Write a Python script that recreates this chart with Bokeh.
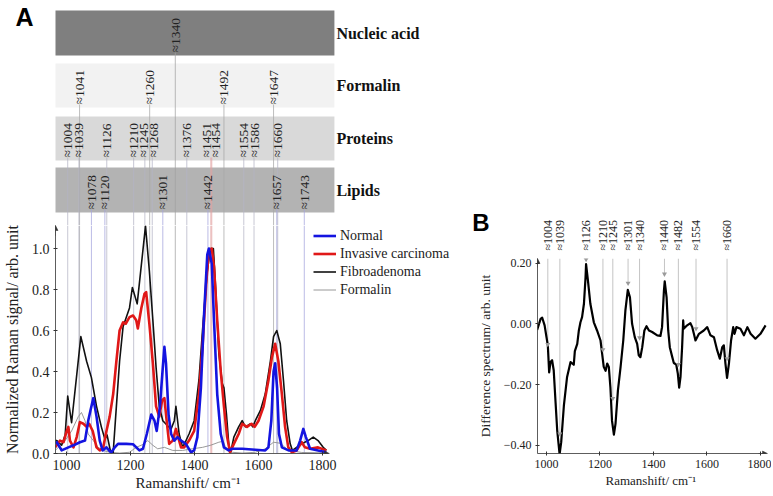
import math
from bokeh.plotting import figure
from bokeh.models import (Range1d, LinearAxis, FixedTicker, PrintfTickFormatter, Title,
                          CustomJSTickFormatter, Legend, LegendItem, Arrow, NormalHead)
from bokeh.layouts import row, column
from bokeh.embed import file_html
from bokeh.resources import INLINE
from bokeh.core.properties import value

# ---------------------------------------------------------------- data
shift_ticks = [1000, 1200, 1400, 1600, 1800]
a_yticks = [0.0, 0.2, 0.4, 0.6, 0.8, 1.0]
b_yticks = [-0.4, -0.2, 0.0, 0.2]
panel_letters = ["A", "B"]

series_names = ["Normal", "Invasive carcinoma", "Fibroadenoma", "Formalin"]

normal_x = [965, 970, 985, 1006, 1022, 1042, 1058, 1068, 1075, 1084, 1094, 1104, 1113, 1125, 1133,
            1140, 1151, 1161, 1187, 1208, 1228, 1239, 1251, 1265, 1275, 1282, 1292, 1301, 1306, 1311,
            1319, 1327, 1337, 1347, 1358, 1373, 1389, 1399, 1409, 1420, 1430, 1440, 1445, 1454, 1461,
            1471, 1482, 1492, 1507, 1518, 1549, 1590, 1621, 1631, 1640, 1647, 1652, 1658, 1664, 1673,
            1694, 1719, 1730, 1740, 1748, 1761, 1786, 1812]
normal_y = [0.05, 0.055, 0.015, 0.03, 0.04, 0.055, 0.063, 0.16, 0.21, 0.27, 0.18, 0.063, 0.015, 0.03, 0.015,
            0.005, 0.03, 0.047, 0.047, 0.045, 0.015, 0.023, 0.095, 0.19, 0.16, 0.11, 0.23, 0.42, 0.52, 0.44,
            0.19, 0.095, 0.063, 0.08, 0.063, 0.047, 0.006, 0.015, 0.08, 0.32, 0.68, 0.97, 1.0, 0.925, 0.65,
            0.29, 0.095, 0.03, 0.015, 0.023, 0.023, 0.018, 0.015, 0.03, 0.16, 0.40, 0.44, 0.32, 0.095, 0.03,
            0.015, 0.015, 0.063, 0.12, 0.08, 0.023, 0.015, 0.006]

invasive_x = [965, 980, 991, 1001, 1006, 1011, 1022, 1032, 1042, 1053, 1063, 1071, 1082, 1094, 1104,
              1115, 1125, 1135, 1146, 1156, 1166, 1177, 1185, 1197, 1208, 1218, 1223, 1234, 1244, 1249,
              1259, 1270, 1280, 1290, 1299, 1306, 1313, 1321, 1332, 1342, 1349, 1358, 1368, 1383, 1399,
              1414, 1425, 1437, 1445, 1454, 1461, 1471, 1482, 1492, 1502, 1511, 1523, 1538, 1549, 1564,
              1578, 1588, 1600, 1616, 1631, 1642, 1652, 1662, 1673, 1683, 1693, 1704, 1719, 1735, 1745,
              1761, 1786, 1812]
invasive_y = [0.03, 0.063, 0.055, 0.11, 0.13, 0.063, 0.03, 0.08, 0.153, 0.145, 0.13, 0.145, 0.11, 0.03, 0.015,
              0.03, 0.11, 0.18, 0.29, 0.45, 0.60, 0.64, 0.633, 0.665, 0.673, 0.65, 0.61, 0.71, 0.78, 0.787,
              0.633, 0.44, 0.23, 0.18, 0.26, 0.27, 0.16, 0.047, 0.063, 0.12, 0.08, 0.03, 0.03, 0.063, 0.11,
              0.29, 0.52, 0.84, 0.99, 1.0, 0.91, 0.65, 0.40, 0.23, 0.08, 0.006, 0.047, 0.095, 0.145, 0.13,
              0.145, 0.13, 0.16, 0.23, 0.356, 0.47, 0.535, 0.45, 0.29, 0.13, 0.03, 0.006, 0.015, 0.055, 0.03,
              0.023, 0.03, 0.015]

fibro_x = [965, 970, 985, 996, 1004, 1016, 1045, 1063, 1078, 1094, 1109, 1120, 1127, 1137, 1146,
           1156, 1166, 1177, 1187, 1197, 1206, 1221, 1247, 1259, 1270, 1280, 1290, 1301, 1316, 1327,
           1337, 1342, 1352, 1363, 1371, 1383, 1399, 1414, 1425, 1440, 1450, 1459, 1466, 1476, 1487,
           1492, 1500, 1507, 1513, 1523, 1538, 1549, 1559, 1575, 1582, 1590, 1606, 1621, 1637, 1647,
           1657, 1668, 1678, 1688, 1699, 1706, 1719, 1735, 1755, 1771, 1786, 1802, 1812]
fibro_y = [0.063, 0.063, 0.04, 0.09, 0.28, 0.15, 0.57, 0.45, 0.37, 0.23, 0.13, 0.07, 0.09, 0.015, 0.005,
           0.23, 0.45, 0.62, 0.665, 0.71, 0.81, 0.73, 1.11, 0.89, 0.65, 0.42, 0.23, 0.16, 0.135, 0.12,
           0.16, 0.23, 0.095, 0.03, 0.055, 0.095, 0.16, 0.36, 0.6, 0.89, 1.0, 1.0, 0.81, 0.49, 0.34,
           0.32, 0.19, 0.047, 0.006, 0.08, 0.13, 0.16, 0.13, 0.145, 0.13, 0.16, 0.21, 0.29, 0.45, 0.57,
           0.60, 0.535, 0.356, 0.16, 0.047, 0.015, 0.03, 0.047, 0.063, 0.08, 0.063, 0.03, 0.015]

formalin_x = [965, 996, 1016, 1037, 1047, 1058, 1068, 1084, 1099, 1115, 1135, 1166, 1197, 1218, 1239,
              1254, 1270, 1285, 1306, 1332, 1363, 1394, 1425, 1450, 1476, 1490, 1497, 1518, 1549, 1590,
              1621, 1647, 1668, 1694, 1735, 1812]
formalin_y = [0.015, 0.063, 0.11, 0.18, 0.20, 0.16, 0.095, 0.063, 0.03, 0.015, 0.006, 0.002, 0.006, 0.03, 0.044,
              0.063, 0.04, 0.023, 0.03, 0.015, 0.015, 0.023, 0.03, 0.04, 0.055, 0.06, 0.03, 0.006, 0.002, 0.006,
              0.023, 0.055, 0.05, 0.015, 0.005, 0.003]

band_names = ["Nucleic acid", "Formalin", "Proteins", "Lipids"]
nucleic_bands = [1340]
formalin_bands = [1041, 1260, 1492, 1647]
protein_bands = [1004, 1039, 1126, 1210, 1245, 1268, 1376, 1451, 1454, 1554, 1586, 1660]
lipid_bands = [1078, 1120, 1301, 1442, 1657, 1743]
highlight_bands = [1451, 1454]

diff_x = [965, 978, 984, 993, 1000, 1005, 1010, 1015, 1021, 1027, 1034, 1040, 1049, 1055, 1065,
          1077, 1090, 1102, 1106, 1115, 1121, 1127, 1133, 1140, 1146, 1148, 1155, 1164, 1177, 1189,
          1202, 1208, 1214, 1221, 1227, 1233, 1239, 1245, 1252, 1258, 1267, 1277, 1287, 1295, 1304,
          1312, 1320, 1330, 1339, 1345, 1351, 1358, 1366, 1374, 1383, 1395, 1414, 1426, 1432, 1439,
          1442, 1449, 1455, 1461, 1470, 1476, 1485, 1491, 1496, 1501, 1507, 1511, 1513, 1526, 1538,
          1545, 1551, 1557, 1570, 1588, 1601, 1613, 1626, 1638, 1648, 1657, 1663, 1669, 1675, 1682,
          1690, 1698, 1703, 1710, 1725, 1738, 1751, 1763, 1781, 1800, 1819]
diff_y = [-0.02, 0.016, 0.02, -0.005, -0.044, -0.071, -0.16, -0.126, -0.12, -0.153, -0.26, -0.35, -0.43, -0.39, -0.27,
          -0.175, -0.126, -0.135, -0.09, -0.066, -0.022, 0.005, 0.022, 0.066, 0.153, 0.197, 0.142, 0.066, 0.005, -0.022,
          -0.055, -0.098, -0.142, -0.155, -0.131, -0.142, -0.21, -0.32, -0.365, -0.33, -0.22, -0.142, -0.055, 0.044, 0.112,
          0.087, 0.0, -0.044, -0.066, -0.104, -0.11, -0.077, -0.022, -0.008, -0.022, -0.027, -0.038, -0.04, -0.011, 0.109,
          0.14, 0.087, -0.022, -0.077, -0.109, -0.129, -0.134, -0.164, -0.21, -0.175, -0.077, 0.011, -0.016, -0.005, 0.002,
          -0.011, -0.033, -0.055, -0.033, -0.022, -0.011, -0.038, -0.044, -0.087, -0.115, -0.077, -0.071, -0.131, -0.178, -0.131,
          -0.055, -0.011, -0.033, -0.011, -0.016, -0.038, -0.011, -0.033, -0.049, -0.033, -0.005]

diff_peak_labels = ["1004", "1039", "1126", "1210", "1245", "1301", "1340", "1440", "1482", "1554", "1660"]
diff_peak_pos = [1005, 1050, 1148, 1211, 1248, 1305, 1348, 1441, 1493, 1559, 1675]
diff_peak_mark = [-0.068, -0.363, 0.212, -0.085, -0.246, 0.134, -0.046, 0.164, -0.134, -0.016, -0.115]

# ---------------------------------------------------------------- layout / style
SERIF = "Liberation Serif"
SANS = "Liberation Sans"
AXC = "#333333"
TXT = "#222222"

# page pixel geometry
A_W = 456                 # left column width
B_W = 315                 # right column width
A_FL, A_FT, A_FB = 52, 225, 453       # panel A plot frame left / top / bottom
B_FL, B_FT, B_FB = 537, 258, 453      # panel B plot frame
B_TOPH = 252                          # height of the strip above panel B
TOTAL_H = 494

A_X0, A_PXU, A_PXY = 965.8, 0.3225, 205.0     # data x at frame left, px per unit
B_X0, B_PXU, B_PXY, B_ZERO = 966.4, 0.2675, 303.5, 323.3


def axp(px):
    return A_X0 + (px - A_FL) / A_PXU


def bxp(px):
    return B_X0 + (px - B_FL) / B_PXU


def byp(py):
    return (B_ZERO - py) / B_PXY


def spread(vals, sep):
    clusters = [[v] for v in vals]

    def place(c):
        m = sum(c) / len(c)
        n = len(c)
        return [m + (i - (n - 1) / 2) * sep for i in range(n)]

    merged = True
    while merged:
        merged = False
        for i in range(len(clusters) - 1):
            if place(clusters[i + 1])[0] - place(clusters[i])[-1] < sep:
                clusters[i] = clusters[i] + clusters.pop(i + 1)
                merged = True
                break
    out = []
    for c in clusters:
        out += place(c)
    return out


def style_axis(axis, size):
    axis.axis_line_color = AXC
    axis.axis_line_width = 0.8
    axis.major_tick_line_color = AXC
    axis.major_tick_in = 2
    axis.major_tick_out = 2
    axis.minor_tick_line_color = None
    axis.major_label_text_font = SERIF
    axis.major_label_text_font_size = size
    axis.major_label_text_color = TXT
    axis.major_label_standoff = 4
    axis.axis_label_text_font = SERIF
    axis.axis_label_text_font_style = "normal"
    axis.axis_label_text_color = TXT


def letter_axis(p, y, letter, standoff, size):
    # panel letter, drawn as the single tick label of an otherwise invisible axis
    ax_ = LinearAxis(ticker=FixedTicker(ticks=[y]), major_label_overrides={y: letter})
    ax_.axis_line_color = None
    ax_.major_tick_line_color = None
    ax_.minor_tick_line_color = None
    ax_.major_tick_in = 0
    ax_.major_tick_out = 0
    ax_.major_label_standoff = standoff
    ax_.major_label_text_font = SANS
    ax_.major_label_text_font_style = "bold"
    ax_.major_label_text_font_size = size
    ax_.major_label_text_color = "black"
    p.add_layout(ax_, "left")


def clean(p):
    p.outline_line_color = None
    p.background_fill_color = "white"
    p.border_fill_color = "white"


def arrow_head(p, x0, y0, x1, y1):
    p.add_layout(Arrow(end=NormalHead(size=5, fill_color=AXC, line_color=AXC, line_width=0.5),
                       x_start=x0, y_start=y0, x_end=x1, y_end=y1,
                       line_color=AXC, line_width=0.8))


band_lists = [nucleic_bands, formalin_bands, protein_bands, lipid_bands]
band_fill = ["#7f7f7f", "#f2f2f2", "#d9d9d9", "#b3b3b3"]
band_line = ["#a0a0a0", "#a8a8a8", "#b4b4c6", "#a4a4dc"]
line_cols = [["#e2a2a2" if v in highlight_bands else band_line[k] for v in bl]
             for k, bl in enumerate(band_lists)]

a_xr = Range1d(A_X0, axp(A_W))
b_xr = Range1d(B_X0, bxp(A_W + B_W))

# ---------------------------------------------------------------- A : band strips
ab = figure(width=A_W, height=A_FT, x_range=a_xr, y_range=Range1d(0, A_FT),
            x_axis_type=None, y_axis_type=None, output_backend="svg", toolbar_location=None,
            min_border_left=A_FL, min_border_right=0, min_border_top=0, min_border_bottom=0)
clean(ab)
band_top_py = [10, 63, 116, 167]
band_bot_py = [55, 107, 160, 212]
tops = [A_FT - v for v in band_top_py]
bots = [A_FT - v for v in band_bot_py]
lab_base = [b + 3 for b in bots]

ab.quad(left=axp(51), right=axp(333), top=tops, bottom=bots, fill_color=band_fill, line_color=None)
for k, bl in enumerate(band_lists):
    ab.segment(x0=bl, y0=[0] * len(bl), x1=bl, y1=[lab_base[k]] * len(bl),
               line_color=line_cols[k], line_width=1, line_alpha=0.75)
sep = 9.4 / A_PXU
for k, bl in enumerate(band_lists):
    ab.text(x=spread(bl, sep), y=[lab_base[k]] * len(bl), text=["\u2248" + str(v) for v in bl],
            angle=math.pi / 2, text_align="left", text_baseline="middle",
            text_font=value(SERIF), text_font_size="13.5px", text_color=TXT)
ab.text(x=[axp(335)] * 4, y=[(t + b) / 2 for t, b in zip(tops, bots)], text=band_names,
        text_align="left", text_baseline="middle", text_font=value(SERIF),
        text_font_style="bold", text_font_size="16px", text_color="#111111")
letter_axis(ab, A_FT - 16, panel_letters[0], A_FL - 30, "25px")

# ---------------------------------------------------------------- A : spectra
ap_h = TOTAL_H - A_FT
a_ytop = (A_FB - A_FT) / A_PXY
pa = figure(width=A_W, height=ap_h, x_range=a_xr, y_range=Range1d(0, a_ytop),
            x_axis_type=None, y_axis_type=None, output_backend="svg", toolbar_location=None,
            min_border_left=A_FL, min_border_right=0, min_border_top=0,
            min_border_bottom=ap_h - (A_FB - A_FT))
clean(pa)
for k, bl in enumerate(band_lists):
    pa.segment(x0=bl, y0=[0] * len(bl), x1=bl, y1=[a_ytop] * len(bl),
               line_color=line_cols[k], line_width=1, line_alpha=0.75)

r_form = pa.line(formalin_x, formalin_y, line_color="#8c8c8c", line_width=0.9)
r_fib = pa.line(fibro_x, fibro_y, line_color="#111111", line_width=1.6, line_join="round")
r_inv = pa.line(invasive_x, invasive_y, line_color="#e01818", line_width=2.6, line_join="round")
r_norm = pa.line(normal_x, normal_y, line_color="#1414e0", line_width=2.6, line_join="round")

legend = Legend(items=[LegendItem(label=series_names[0], renderers=[r_norm]),
                       LegendItem(label=series_names[1], renderers=[r_inv]),
                       LegendItem(label=series_names[2], renderers=[r_fib]),
                       LegendItem(label=series_names[3], renderers=[r_form])],
                location=(310 - A_FL, A_FB - 298), background_fill_alpha=0, border_line_alpha=0,
                padding=0, margin=0, spacing=1, glyph_width=23, glyph_height=17,
                label_height=17, label_standoff=4, label_text_font=SERIF,
                label_text_font_size="14px", label_text_color=TXT)
pa.add_layout(legend)

xa = LinearAxis(ticker=FixedTicker(ticks=shift_ticks), bounds=(A_X0, axp(327)))
style_axis(xa, "14px")
pa.add_layout(xa, "below")
ya = LinearAxis(ticker=FixedTicker(ticks=a_yticks), formatter=PrintfTickFormatter(format="%.1f"),
                bounds=(0, a_ytop), axis_label="Normalized Raman signal/ arb. unit")
style_axis(ya, "14px")
ya.axis_label_text_font_size = "16px"
ya.axis_label_standoff = 8
pa.add_layout(ya, "left")
pa.add_layout(Title(text="Ramanshift/ cm\u207b\u00b9", align="left", offset=80, standoff=0,
                    text_font=SERIF, text_font_style="normal", text_font_size="15px",
                    text_color=TXT), "below")
arrow_head(pa, axp(318), 0, axp(328), 0)
arrow_head(pa, A_X0, a_ytop - 0.05, A_X0, a_ytop)

# ---------------------------------------------------------------- B : peak labels
bt = figure(width=B_W, height=B_TOPH, x_range=b_xr, y_range=Range1d(0, B_TOPH),
            x_axis_type=None, y_axis_type=None, output_backend="svg", toolbar_location=None,
            min_border_left=B_FL - A_W, min_border_right=0, min_border_top=0, min_border_bottom=0)
clean(bt)
n = len(diff_peak_pos)
bt.text(x=diff_peak_pos, y=[B_TOPH - 250] * n, text=["\u2248" + s for s in diff_peak_labels],
        angle=math.pi / 2, text_align="left", text_baseline="middle",
        text_font=value(SERIF), text_font_size="12px", text_color=TXT)
letter_axis(bt, B_TOPH - 222, panel_letters[1], B_FL - 489, "24px")

# ---------------------------------------------------------------- B : difference spectrum
bp_h = TOTAL_H - B_TOPH
b_y0, b_y1 = byp(B_FB), byp(B_FT)
pb = figure(width=B_W, height=bp_h, x_range=b_xr, y_range=Range1d(b_y0, b_y1),
            x_axis_type=None, y_axis_type=None, output_backend="svg", toolbar_location=None,
            min_border_left=B_FL - A_W, min_border_right=0, min_border_top=B_FT - B_TOPH,
            min_border_bottom=bp_h - (B_FB - B_TOPH))
clean(pb)
pb.segment(x0=diff_peak_pos, y0=diff_peak_mark, x1=diff_peak_pos, y1=[b_y1] * n,
           line_color="#c4c4c4", line_width=1)
pb.line(diff_x, diff_y, line_color="black", line_width=2.2, line_join="round")
pb.scatter(diff_peak_pos, diff_peak_mark, marker="inverted_triangle", size=5,
           fill_color="#9a9a9a", line_color=None)

bxa = LinearAxis(ticker=FixedTicker(ticks=shift_ticks), bounds=(B_X0, bxp(766)))
style_axis(bxa, "12px")
pb.add_layout(bxa, "below")
bya = LinearAxis(ticker=FixedTicker(ticks=b_yticks), bounds=(b_y0, b_y1),
                 axis_label="Difference spectrum/ arb. unit",
                 formatter=CustomJSTickFormatter(
                     code="return (tick < -1e-9 ? '\u2212' : '') + Math.abs(tick).toFixed(2);"))
style_axis(bya, "12px")
bya.axis_label_text_font_size = "13.5px"
bya.axis_label_standoff = 8
pb.add_layout(bya, "left")
pb.add_layout(Title(text="Ramanshift/ cm\u207b\u00b9", align="left", offset=68, standoff=0,
                    text_font=SERIF, text_font_style="normal", text_font_size="13px",
                    text_color=TXT), "below")
arrow_head(pb, bxp(758), b_y0, bxp(767), b_y0)
arrow_head(pb, B_X0, b_y1 - 0.03, B_X0, b_y1)

layout = row(column(ab, pa), column(bt, pb))
open("out.html", "w").write(file_html(layout, INLINE, title="Raman spectra"))
